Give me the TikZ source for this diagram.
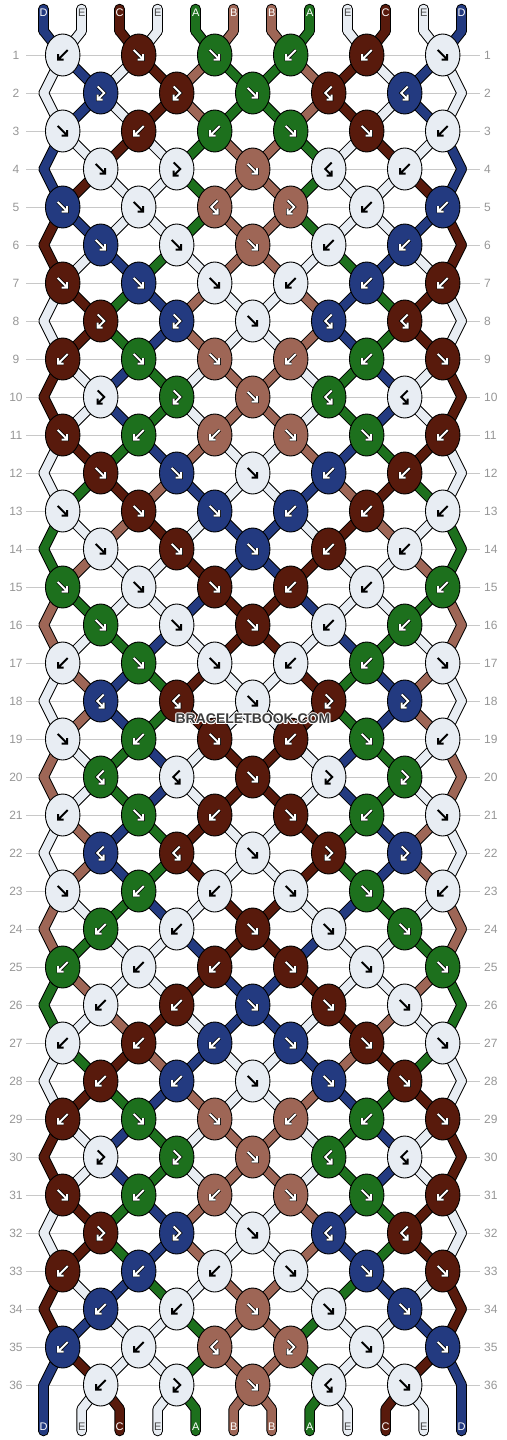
\documentclass[tikz,border=0pt]{standalone}
\usepackage{fontspec}
\setmainfont{Liberation Sans}
\usetikzlibrary{shapes.geometric}
\definecolor{sD}{RGB}{35,58,128}
\definecolor{sE}{RGB}{232,237,243}
\definecolor{sC}{RGB}{88,26,12}
\definecolor{sA}{RGB}{29,112,29}
\definecolor{sB}{RGB}{158,102,86}
\definecolor{rowgray}{RGB}{200,200,200}
\definecolor{numgray}{RGB}{150,150,150}
\definecolor{wmgray}{RGB}{60,60,60}
\definecolor{lblgray}{RGB}{70,70,70}
\pgfdeclarelayer{grid}
\pgfdeclarelayer{sout}
\pgfdeclarelayer{sfill}
\pgfsetlayers{grid,sout,sfill,main}
\def\tyf{f}\def\tyb{b}\def\tyfb{fb}\def\tybf{bf}\def\tyE{E}
\def\mirf{b}\def\mirb{f}\def\mirfb{bf}\def\mirbf{fb}
\newcommand\deftys[2]{%
  \foreach \tq [count=\j from 0] in {#2} {%
    \ifodd#1\relax \pgfmathtruncatemacro\kq{2*\j}\else\pgfmathtruncatemacro\kq{2*\j+1}\fi
    \pgfmathtruncatemacro\mq{10-\kq}%
    \expandafter\xdef\csname ty-#1-\kq\endcsname{\tq}%
    \expandafter\xdef\csname ty-#1-\mq\endcsname{\csname mir\tq\endcsname}%
  }%
  \ifodd#1\relax\else\expandafter\xdef\csname ty-#1-5\endcsname{f}\fi
}
\gdef\outlist{}\gdef\filllist{}
\newcommand\addpath[2]{%
  \xdef\outlist{\unexpanded\expandafter{\outlist}\noexpand\draw[strout] #2;}%
  \xdef\filllist{\unexpanded\expandafter{\filllist}\noexpand\draw[strfill,draw=s#1] #2;}}
\tikzset{
  knot/.style={ellipse, draw=black, line width=0.9pt, minimum width=34.5pt, minimum height=42pt, inner sep=0pt},
  strout/.style={line width=10.5pt, draw=black, line cap=round, line join=round},
  strfill/.style={line width=8.5pt, line cap=round, line join=round},
  rowline/.style={draw=rowgray, line width=1pt},
  rownum/.style={text=numgray, font=\fontsize{12}{12}\selectfont, inner sep=0pt},
  lbl/.style={font=\fontsize{11}{11}\selectfont, inner sep=0pt},
  arrw/.style={line width=2pt, line cap=butt, line join=miter},
  wm/.style={font=\bfseries\fontsize{14}{14}\selectfont, inner sep=0pt},
}
\newcommand\arrowshape[2]{%
  \ifx#1\tyf \draw[arrw,#2] (-5,-5) -- (4.5,4.5) (4.5,-1) -- (4.5,4.5) -- (-1,4.5);\fi
  \ifx#1\tyb \draw[arrw,#2] (5,-5) -- (-4.5,4.5) (-4.5,-1) -- (-4.5,4.5) -- (1,4.5);\fi
  \ifx#1\tyfb \draw[arrw,#2] (-3,-6.5) -- (3.5,0) -- (-3,6.5) (-3,1.5) -- (-3,6.5) -- (2,6.5);\fi
  \ifx#1\tybf \draw[arrw,#2] (3,-6.5) -- (-3.5,0) -- (3,6.5) (3,1.5) -- (3,6.5) -- (-2,6.5);\fi
}
\deftys{1}{b,f,f}
\deftys{2}{fb,fb}
\deftys{3}{f,b,b}
\deftys{4}{f,fb}
\deftys{5}{f,f,bf}
\deftys{6}{f,f}
\deftys{7}{f,f,f}
\deftys{8}{fb,fb}
\deftys{9}{b,f,f}
\deftys{10}{fb,fb}
\deftys{11}{f,b,b}
\deftys{12}{f,f}
\deftys{13}{f,f,f}
\deftys{14}{f,f}
\deftys{15}{f,f,f}
\deftys{16}{f,f}
\deftys{17}{b,f,f}
\deftys{18}{bf,bf}
\deftys{19}{f,b,f}
\deftys{20}{bf,bf}
\deftys{21}{b,f,b}
\deftys{22}{bf,bf}
\deftys{23}{f,b,b}
\deftys{24}{b,b}
\deftys{25}{b,b,b}
\deftys{26}{b,b}
\deftys{27}{b,b,b}
\deftys{28}{b,b}
\deftys{29}{b,f,f}
\deftys{30}{fb,fb}
\deftys{31}{f,b,b}
\deftys{32}{fb,fb}
\deftys{33}{b,b,b}
\deftys{34}{b,b}
\deftys{35}{b,b,bf}
\deftys{36}{b,fb}
\begin{document}
\begin{tikzpicture}[x=1pt,y=-1pt]
\useasboundingbox (0,0) rectangle (506,1440);
% grid lines
\begin{pgfonlayer}{grid}
\foreach \r in {1,...,36} {
  \pgfmathsetmacro\yy{55+38*(\r-1)}
  \draw[rowline] (26,\yy) -- (480,\yy);
}
\end{pgfonlayer}
% top string ends
\foreach \cq [count=\i from 0] in {D,E,C,E,A,B,B,A,E,C,E,D} {
  \pgfmathsetmacro\xx{43.7+38*\i}
  \edef\cc{\cq}
  \coordinate (te-\i) at (\xx,9);
  \coordinate (tb-\i) at (\xx,31);
  \addpath{\cc}{(te-\i) -- (tb-\i)}
  \ifx\cc\tyE\def\lc{lblgray}\else\def\lc{white}\fi
  \node[lbl,text=\lc] (tl-\i) at (\xx,13) {\cc};
  \expandafter\xdef\csname strc\i\endcsname{\cc}
  \expandafter\xdef\csname strp\i\endcsname{tb-\i}
}
% rows
\foreach \r in {1,...,36} {
  \pgfmathsetmacro\yy{55+38*(\r-1)}
  \node[rownum] (ln-\r) at (16,\yy) {\r};
  \node[rownum,anchor=west] (rn-\r) at (484,\yy) {\r};
  \ifodd\r \def\klist{0,2,4,6,8,10}\else\def\klist{1,3,5,7,9}\fi
  \foreach \k in \klist {
    \pgfmathtruncatemacro\kk{\k+1}
    \pgfmathsetmacro\xx{62.7+38*\k}
    \edef\L{\csname strc\k\endcsname}
    \edef\R{\csname strc\kk\endcsname}
    \edef\Pa{\csname strp\k\endcsname}
    \edef\Pb{\csname strp\kk\endcsname}
    \edef\T{\csname ty-\r-\k\endcsname}
    \edef\KC{\R}\def\swp{0}
    \ifx\T\tyf \edef\KC{\L}\def\swp{1}\fi
    \ifx\T\tyb \def\swp{1}\fi
    \ifx\T\tyfb \edef\KC{\L}\fi
    \node[knot, fill=s\KC] (n-\r-\k) at (\xx,\yy) {};
    \addpath{\L}{(\Pa.center) -- (n-\r-\k.center)}
    \addpath{\R}{(\Pb.center) -- (n-\r-\k.center)}
    \begin{scope}[shift={(n-\r-\k.center)}]
      \ifx\KC\tyE \arrowshape\T{black}\else \arrowshape\T{black,line width=3.4pt}\arrowshape\T{white}\fi
    \end{scope}
    \expandafter\xdef\csname strp\k\endcsname{n-\r-\k}
    \expandafter\xdef\csname strp\kk\endcsname{n-\r-\k}
    \if1\swp
      \expandafter\xdef\csname strc\k\endcsname{\R}
      \expandafter\xdef\csname strc\kk\endcsname{\L}
    \fi
  }
  \ifodd\r\else
    \foreach \ei/\ex in {0/43.7,11/461.7} {
      \edef\L{\csname strc\ei\endcsname}
      \edef\Pa{\csname strp\ei\endcsname}
      \coordinate (e-\r-\ei) at (\ex,\yy);
      \addpath{\L}{(\Pa.center) -- (e-\r-\ei)}
      \expandafter\xdef\csname strp\ei\endcsname{e-\r-\ei}
    }
  \fi
}
% bottom string ends
\foreach \i in {0,...,11} {
  \pgfmathsetmacro\xx{43.7+38*\i}
  \edef\L{\csname strc\i\endcsname}
  \edef\Pa{\csname strp\i\endcsname}
  \coordinate (bb-\i) at (\xx,1409);
  \coordinate (be-\i) at (\xx,1431);
  \addpath{\L}{(\Pa.center) -- (bb-\i) -- (be-\i)}
  \ifx\L\tyE\def\lc{lblgray}\else\def\lc{white}\fi
  \node[lbl,text=\lc] (bl-\i) at (\xx,1427) {\L};
}
\begin{pgfonlayer}{sout}\outlist\end{pgfonlayer}
\begin{pgfonlayer}{sfill}\filllist\end{pgfonlayer}
% watermark with light outline
\foreach \dx/\dy [count=\w] in {-1/0,1/0,0/-1,0/1,-0.8/-0.8,0.8/-0.8,-0.8/0.8,0.8/0.8} {
  \node[wm, text=white] (wmo-\w) at (253+\dx,719+\dy) {BRACELETBOOK.COM};
}
\node[wm, text=wmgray] (wm) at (253,719) {BRACELETBOOK.COM};
\end{tikzpicture}
\end{document}
